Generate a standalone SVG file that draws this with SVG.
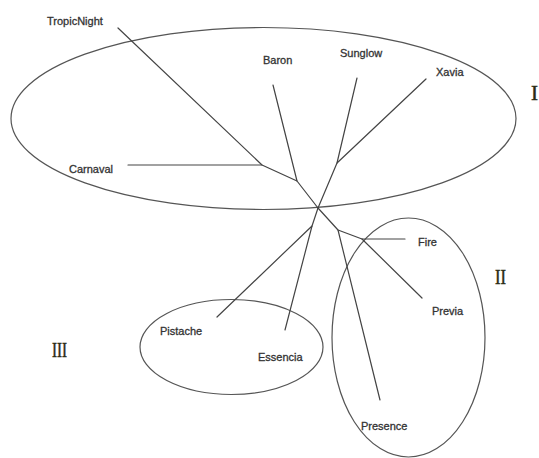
<svg xmlns="http://www.w3.org/2000/svg" width="539" height="458" viewBox="0 0 539 458">
<style>
.lbl{font-family:"Liberation Sans",Arial,sans-serif;font-size:11px;fill:#333;stroke:#333;stroke-width:0.3}
.rom{font-family:"Liberation Serif","Times New Roman",serif;font-size:21px;fill:#2b2b14;stroke:#2b2b14;stroke-width:0.5}
.grp{fill:none;stroke:#555;stroke-width:1.2}
.br{fill:none;stroke:#444;stroke-width:1.2;stroke-linecap:round;stroke-linejoin:round}
</style>
<rect width="539" height="458" fill="#fff"/>
<g id="groups">
<ellipse id="group-I" class="grp" cx="263.5" cy="118.5" rx="252.5" ry="91"/>
<ellipse id="group-II" class="grp" cx="408.5" cy="337.5" rx="76.5" ry="119.5"/>
<ellipse id="group-III" class="grp" cx="231.5" cy="347" rx="91.5" ry="47.5"/>
</g>
<g id="connectors">
<polyline class="br" points="118,28 262,165 297,181 318,208"/>
<line class="br" x1="128" y1="165" x2="262" y2="165"/>
<line class="br" x1="273" y1="85" x2="297" y2="181"/>
<polyline class="br" points="357,78 337,163 318,208"/>
<line class="br" x1="426" y1="79" x2="337" y2="163"/>
<polyline class="br" points="318,208 312,226 217,317"/>
<line class="br" x1="312" y1="226" x2="285" y2="330"/>
<polyline class="br" points="318,208 338,230 362,239 405,239"/>
<line class="br" x1="338" y1="230" x2="380" y2="400"/>
<line class="br" x1="362" y1="239" x2="422" y2="298"/>
</g>
<g id="node-TropicNight"><text class="lbl" x="47" y="25">TropicNight</text></g>
<g id="node-Baron"><text class="lbl" x="263" y="64">Baron</text></g>
<g id="node-Sunglow"><text class="lbl" x="340" y="57">Sunglow</text></g>
<g id="node-Xavia"><text class="lbl" x="436" y="76">Xavia</text></g>
<g id="node-Carnaval"><text class="lbl" x="69" y="173">Carnaval</text></g>
<g id="node-Pistache"><text class="lbl" x="160" y="335">Pistache</text></g>
<g id="node-Essencia"><text class="lbl" x="258" y="361">Essencia</text></g>
<g id="node-Fire"><text class="lbl" x="418" y="246">Fire</text></g>
<g id="node-Previa"><text class="lbl" x="432" y="315">Previa</text></g>
<g id="node-Presence"><text class="lbl" x="361" y="430">Presence</text></g>
<g id="label-I"><text class="rom" x="531" y="100">I</text></g>
<g id="label-II"><text class="rom" x="495" y="284" textLength="11" lengthAdjust="spacingAndGlyphs">II</text></g>
<g id="label-III"><text class="rom" x="52" y="357" textLength="15" lengthAdjust="spacingAndGlyphs">III</text></g>
</svg>
